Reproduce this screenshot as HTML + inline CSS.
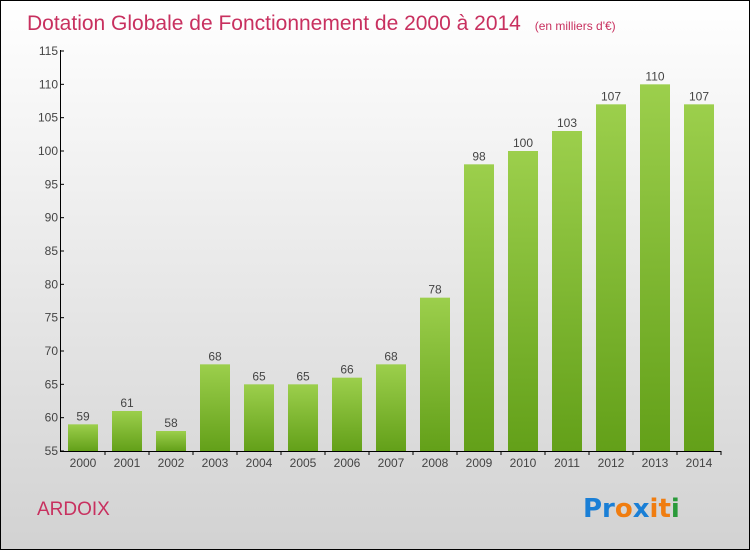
<!DOCTYPE html>
<html><head><meta charset="utf-8"><style>
body{margin:0}
#c{width:748px;height:548px;border:1px solid #000;position:relative;background:linear-gradient(#ffffff,#d2d2d2);font-family:"Liberation Sans",sans-serif;overflow:hidden}
</style></head><body>
<div id="c">
<svg id="s" width="748" height="548">
<defs><linearGradient id="g" x1="0" y1="0" x2="0" y2="1"><stop offset="0" stop-color="#9ccf4c"/><stop offset="1" stop-color="#63a019"/></linearGradient></defs>
<text x="26" y="29" font-size="21" fill="#c8305f">Dotation Globale de Fonctionnement de 2000 à 2014 <tspan font-size="12" dx="8">(en milliers d'€)</tspan></text>
<text x="36" y="514" font-size="19" fill="#c8305f">ARDOIX</text>
<g font-size="26" font-weight="bold" font-family="'DejaVu Sans',sans-serif">
<text x="582" y="516"><tspan fill="#1a7fd6">Pr</tspan><tspan fill="#f07d10">o</tspan><tspan fill="#1a7fd6">x</tspan><tspan fill="#f07d10">it</tspan><tspan fill="#2a9a3a">i</tspan></text></g>
<g id="bars"></g><g id="axes"></g>
</svg></div>
<script>
const years=["2000","2001","2002","2003","2004","2005","2006","2007","2008","2009","2010","2011","2012","2013","2014"];
const values=[59,61,58,68,65,65,66,68,78,98,100,103,107,110,107];
const yTicks=[55,60,65,70,75,80,85,90,95,100,105,110,115];
const NS="http://www.w3.org/2000/svg";
const y=v=>450-(v-55)*(400/60);
const x=i=>82+i*44;
function mk(t,a,p){const e=document.createElementNS(NS,t);for(const k in a)e.setAttribute(k,a[k]);p.appendChild(e);return e;}
const B=document.getElementById('bars'),A=document.getElementById('axes');
values.forEach((v,i)=>{
 const r=mk('rect',{x:x(i)-15,y:y(v),width:30,height:450-y(v),fill:'url(#g)'},B);
 
 
 const t=mk('text',{x:x(i),y:y(v)-4,'text-anchor':'middle','font-size':12,fill:'#444'},B);t.textContent=v;
 
 
 const l=mk('text',{x:x(i),y:466,'text-anchor':'middle','font-size':12,fill:'#444'},A);l.textContent=years[i];
 
 
 mk('line',{x1:x(i)+22,x2:x(i)+22,y1:450,y2:454,stroke:'#000'},A);
});
mk('line',{x1:59.5,x2:59.5,y1:49,y2:450,stroke:'#000'},A);
mk('line',{x1:59,x2:720,y1:450.5,y2:450.5,stroke:'#000'},A);
yTicks.forEach(v=>{
 mk('line',{x1:59,x2:63,y1:y(v),y2:y(v),stroke:'#000'},A);
 const t=mk('text',{x:57,y:y(v)+4,'text-anchor':'end','font-size':12,fill:'#444'},A);t.textContent=v;
 
 
});
</script>
</body></html>
